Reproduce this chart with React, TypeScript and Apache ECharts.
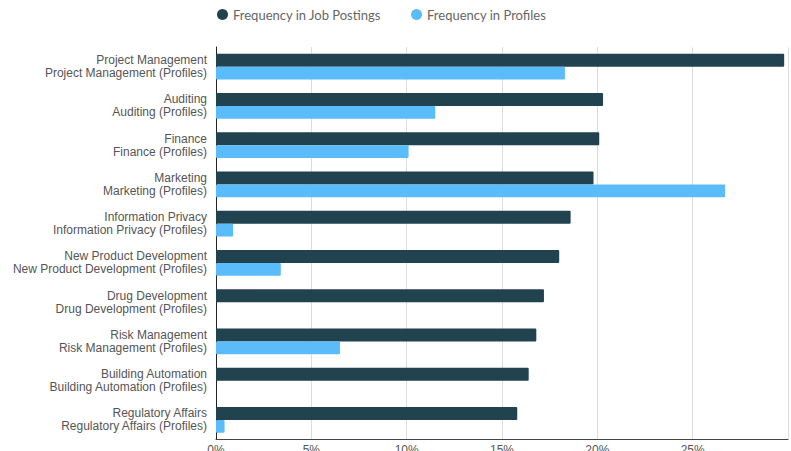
import React, { useEffect, useRef } from "react";
import * as echarts from "echarts";

const categories = [
  "Project Management",
  "Auditing",
  "Finance",
  "Marketing",
  "Information Privacy",
  "New Product Development",
  "Drug Development",
  "Risk Management",
  "Building Automation",
  "Regulatory Affairs",
];
const jobPostings = [29.8, 20.3, 20.1, 19.8, 18.6, 18.0, 17.2, 16.8, 16.4, 15.8];
const profiles = [18.3, 11.5, 10.1, 26.7, 0.9, 3.4, 0, 6.5, 0, 0.45];
const seriesNames = ["Frequency in Job Postings", "Frequency in Profiles"];

export default function App() {
  const ref = useRef<HTMLDivElement>(null);
  useEffect(() => {
    const chart = echarts.init(ref.current!, null, { renderer: "svg" });
    chart.setOption({
      animation: false,
      legend: {
        top: 3,
        left: 212,
        icon: "circle",
        itemWidth: 11,
        itemHeight: 11,
        itemGap: 30,
        textStyle: { fontFamily: "Lato", fontSize: 13, color: "#666" },
        data: seriesNames,
      },
      grid: {
        left: 216,
        right: 3,
        top: 47,
        bottom: 11.5,
        containLabel: false,
        outerBoundsMode: "none",
      },
      xAxis: {
        type: "value",
        min: 0,
        max: 30,
        interval: 5,
        axisLine: { show: true, lineStyle: { color: "#444", width: 1 } },
        axisTick: { show: false },
        splitLine: { show: true, lineStyle: { color: "#dcdcdc" } },
        axisLabel: {
          formatter: "{value}%",
          showMaxLabel: false,
          margin: 4,
          fontFamily: "Liberation Sans",
          fontSize: 12,
          color: "#555",
        },
      },
      yAxis: {
        type: "category",
        inverse: true,
        data: categories,
        axisLine: { show: true, lineStyle: { color: "#222", width: 1 } },
        axisTick: { show: false },
        axisLabel: {
          margin: 9,
          fontFamily: "Liberation Sans",
          fontSize: 12,
          lineHeight: 13,
          color: "#555",
          align: "right",
          formatter: (v: string) => `${v}\n${v} (Profiles)`,
        },
      },
      series: [
        {
          name: seriesNames[0],
          type: "bar",
          data: jobPostings,
          barGap: "0%",
          barCategoryGap: "34.5%",
          itemStyle: { color: "#21424f", borderRadius: 1 },
        },
        {
          name: seriesNames[1],
          type: "bar",
          data: profiles,
          barGap: "0%",
          barCategoryGap: "34.5%",
          itemStyle: { color: "#5bbcfb", borderRadius: 1 },
        },
      ],
    });
    return () => chart.dispose();
  }, []);
  return <div ref={ref} style={{ width: 791, height: 451, position: "absolute", left: 0, top: 0 }} />;
}
